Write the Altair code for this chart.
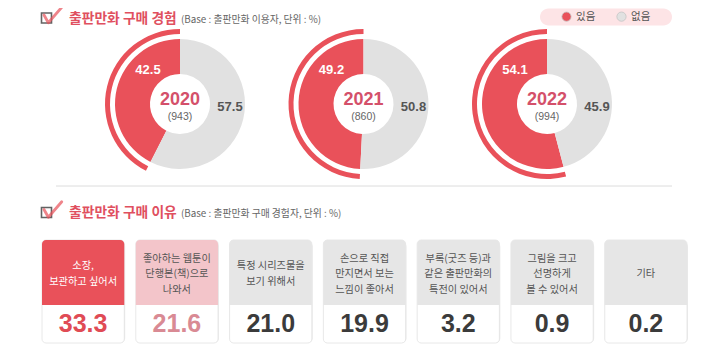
import math
import altair as alt
import pandas as pd

# ---------------- data ----------------
years = ["2020", "2021", "2022"]
bases = [943, 860, 994]
yes_pct = [42.5, 49.2, 54.1]
no_pct = [57.5, 50.8, 45.9]
status_labels = ["있음", "없음"]

reasons = [
    "소장,\n보관하고 싶어서",
    "좋아하는 웹툰이\n단행본(책)으로\n나와서",
    "특정 시리즈물을\n보기 위해서",
    "손으로 직접\n만지면서 보는\n느낌이 좋아서",
    "부록(굿즈 등)과\n같은 출판만화의\n특전이 있어서",
    "그림을 크고\n선명하게\n볼 수 있어서",
    "기타",
]
reason_values = [33.3, 21.6, 21.0, 19.9, 3.2, 0.9, 0.2]

title1 = "출판만화 구매 경험"
sub1 = "(Base : 출판만화 이용자, 단위 : %)"
title2 = "출판만화 구매 이유"
sub2 = "(Base : 출판만화 구매 경험자, 단위 : %)"

# ---------------- styles ----------------
RED = "#e9515a"
GRAY = "#e1e1e1"
TITLE_RED = "#e0505f"
YEAR_RED = "#d4506a"
KR = "Noto Sans CJK KR"
NUM = "Liberation Sans, Noto Sans CJK KR"

donut_df = pd.DataFrame({
    "year": years * 2,
    "base": bases * 2,
    "status": [status_labels[0]] * 3 + [status_labels[1]] * 3,
    "value": yes_pct + no_pct,
    "order": [1] * 3 + [0] * 3,
})
cards_df = pd.DataFrame({"reason": reasons, "value": reason_values})
dummy = alt.Chart(pd.DataFrame({"k": [0]}))

CY = 96
x_year = alt.X("year:N", scale=alt.Scale(type="point", domain=years, range=[172, 539], padding=0),
               axis=None)
theta = alt.Theta("t0:Q", stack=None, scale=alt.Scale(domain=[0, 100], range=[0, 2 * math.pi]))
theta2 = alt.Theta2("t1")

dbase = alt.Chart(donut_df)
stacked = dbase.transform_stack(
    stack="value", groupby=["year"], as_=["t0", "t1"], sort=[alt.SortField("order", order="ascending")]
)

legend = alt.Legend(
    title=None, orient="none", legendX=553, legendY=3, direction="horizontal",
    symbolType="circle", symbolSize=85, labelFontSize=10.5, labelFont=KR, labelColor="#555",
    columnPadding=19, labelOffset=4, padding=0, symbolStrokeColor="#c4c4c4", symbolStrokeWidth=0.8,
)

arcs = stacked.mark_arc(radius=65, radius2=30).encode(
    x=x_year, y=alt.value(CY), theta=theta, theta2=theta2,
    color=alt.Color("status:N", scale=alt.Scale(domain=status_labels, range=[RED, GRAY]), legend=legend),
)
highlight = stacked.transform_filter("datum.status == '있음'").mark_arc(
    radius=75, radius2=70, color=RED
).encode(x=x_year, y=alt.value(CY), theta=theta, theta2=theta2)

yes_lbl = dbase.transform_filter("datum.status == '있음'").mark_text(
    font=NUM, fontSize=13, fontWeight="bold", color="white", dx=-32, dy=-34
).encode(x=x_year, y=alt.value(CY), text=alt.Text("value:Q", format=".1f"))
no_lbl = dbase.transform_filter("datum.status == '없음'").mark_text(
    font=NUM, fontSize=13, fontWeight="bold", color="#555", dx=50, dy=3
).encode(x=x_year, y=alt.value(CY), text=alt.Text("value:Q", format=".1f"))
year_lbl = dbase.transform_filter("datum.status == '있음'").mark_text(
    font=NUM, fontSize=18, fontWeight="bold", color=YEAR_RED, dy=-4
).encode(x=x_year, y=alt.value(CY), text="year:N")
base_lbl = dbase.transform_filter("datum.status == '있음'").transform_calculate(
    lbl="'(' + datum.base + ')'"
).mark_text(font=NUM, fontSize=10.5, color="#666", dy=12.5).encode(
    x=x_year, y=alt.value(CY), text="lbl:N"
)

# ---------------- cards ----------------
x_card = alt.X("reason:N", scale=alt.Scale(type="band", domain=reasons, range=[34, 679],
                                           paddingInner=0.123, paddingOuter=0), axis=None)
cbase = alt.Chart(cards_df).transform_window(
    rank="rank()", sort=[alt.SortField("value", order="descending")]
)
TOP, MID, BOT = 232, 297, 335
LBL_C, LBL_STEP = 266, 15.5

shadow = cbase.mark_rect(cornerRadius=5, color="#000", opacity=0.07, xOffset=1, yOffset=2).encode(
    x=x_card, y=alt.value(TOP), y2=alt.value(BOT)
)
body = cbase.mark_rect(cornerRadius=4, color="white", stroke="#e2e2e2", strokeWidth=0.8).encode(
    x=x_card, y=alt.value(TOP), y2=alt.value(BOT)
)
top = cbase.mark_rect(cornerRadiusTopLeft=4, cornerRadiusTopRight=4).encode(
    x=x_card, y=alt.value(TOP), y2=alt.value(MID),
    fill=alt.Fill("rank:O", scale=alt.Scale(domain=[1, 2, 3, 4, 5, 6, 7],
                                            range=[RED, "#f3c5ca"] + ["#e6e6e6"] * 5), legend=None),
)

lines = cbase.transform_calculate(parts="split(datum.reason, '\\n')").transform_flatten(
    ["parts"], as_=["line"]
).transform_window(li="row_number()", groupby=["reason"]).transform_joinaggregate(
    n="count()", groupby=["reason"]
).transform_calculate(pos="datum.li - (datum.n + 1) / 2")
y_line = alt.Y("pos:Q", scale=alt.Scale(domain=[-1, 1], range=[LBL_C - LBL_STEP, LBL_C + LBL_STEP]),
               axis=None)
lbl_kw = dict(font=KR, fontSize=10.2, align="center", baseline="middle")
lbl_first = lines.transform_filter("datum.rank == 1").mark_text(color="white", **lbl_kw).encode(
    x=x_card, y=y_line, text="line:N"
)
lbl_rest = lines.transform_filter("datum.rank > 1").mark_text(color="#555", **lbl_kw).encode(
    x=x_card, y=y_line, text="line:N"
)
val_kw = dict(font=NUM, fontSize=25, fontWeight="bold", align="center", baseline="middle")
val_colors = {1: "#e04b55", 2: "#d98a94"}
vals = []
for r, c in val_colors.items():
    vals.append(cbase.transform_filter(f"datum.rank == {r}").mark_text(color=c, **val_kw).encode(
        x=x_card, y=alt.value(316), text=alt.Text("value:Q", format=".1f")))
vals.append(cbase.transform_filter("datum.rank > 2").mark_text(color="#3b3b3b", **val_kw).encode(
    x=x_card, y=alt.value(316), text=alt.Text("value:Q", format=".1f")))

# ---------------- decorations ----------------
pill = dummy.mark_rect(cornerRadius=8.5, color="#fde4e6").encode(
    x=alt.value(532), x2=alt.value(664), y=alt.value(0.5), y2=alt.value(17.5)
)
sep = dummy.mark_rule(color="#dcdcdc", strokeWidth=1).encode(
    x=alt.value(48), x2=alt.value(664), y=alt.value(178)
)
CHECK = "M-1,0L-0.52,0.86L0.97,-0.86"
icons = []
for by, cy in [(10, 7), (204.5, 201.5)]:
    icons.append(dummy.mark_square(size=100, filled=False, color="#222", strokeWidth=1.6).encode(
        x=alt.value(38.5), y=alt.value(by)))
    icons.append(dummy.mark_point(shape=CHECK, size=324, filled=False, color=RED, strokeWidth=2.8,
                                  strokeCap="round", strokeJoin="round").encode(
        x=alt.value(45), y=alt.value(cy)))
titles = []
for t, s, ty in [(title1, sub1, 10.5), (title2, sub2, 204.5)]:
    titles.append(dummy.mark_text(text=t, font=KR, fontSize=13.8, fontWeight="bold", color=TITLE_RED,
                                  align="left", baseline="middle").encode(x=alt.value(61), y=alt.value(ty)))
    titles.append(dummy.mark_text(text=s, font=KR, fontSize=9.8, color="#666",
                                  align="left", baseline="middle").encode(x=alt.value(173), y=alt.value(ty + 1)))

chart = alt.layer(
    pill, sep, *icons, *titles,
    arcs, highlight, yes_lbl, no_lbl, year_lbl, base_lbl,
    shadow, body, top, lbl_first, lbl_rest, *vals,
).resolve_scale(x="independent").properties(
    width=704, height=345, padding=0, autosize="none"
).configure_view(stroke=None)

chart.save("out.html", embed_options={"renderer": "svg", "actions": False})
